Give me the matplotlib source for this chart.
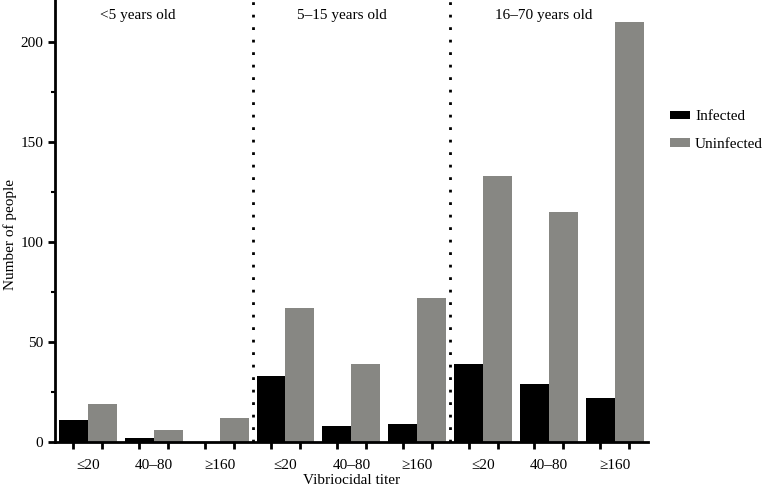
import numpy as np
import matplotlib.pyplot as plt

# data
titer_labels = ['≤20', '40–80', '≥160'] * 3
infected = [11, 2, 0, 33, 8, 9, 39, 29, 22]
uninfected = [19, 6, 12, 67, 39, 72, 133, 115, 210]
age_groups = ['<5 years old', '5–15 years old', '16–70 years old']

plt.rcParams['font.family'] = ['Liberation Serif', 'DejaVu Serif']
plt.rcParams['font.size'] = 11

fig = plt.figure(figsize=(7.63, 4.91), dpi=100)
ax = fig.add_axes([0.072, 0.1, 0.777, 0.9])

x = np.arange(len(infected))
w = 0.44
ax.bar(x - w / 2, infected, width=w, color='black', label='Infected')
ax.bar(x + w / 2, uninfected, width=w, color='#878783', label='Uninfected')

# dotted separators between age groups
for xs in [2.5, 5.5]:
    ax.axvline(xs, color='black', linestyle=(0, (1, 3.5)), lw=2)

for i, name in enumerate(age_groups):
    ax.text(i * 3 + 0.18, 213, name, ha='left', va='center', fontsize=11)

ax.set_xlim(-0.5, 8.5)
ax.set_ylim(0, 221)

ax.set_xticks(x)
ax.set_xticklabels(titer_labels)
ax.tick_params(axis='x', which='major', length=0, pad=12)
ax.set_xticks(np.concatenate([x - w / 2, x + w / 2]), minor=True)
ax.tick_params(axis='x', which='minor', length=5, width=2, direction='out')

ax.set_yticks([0, 50, 100, 150, 200])
ax.set_yticks([25, 75, 125, 175], minor=True)
ax.tick_params(axis='y', which='major', length=5, width=2)
ax.tick_params(axis='y', which='minor', length=3, width=1.5)

for s in ['top', 'right']:
    ax.spines[s].set_visible(False)
for s in ['left', 'bottom']:
    ax.spines[s].set_linewidth(2)

ax.set_ylabel('Number of people')
ax.yaxis.set_label_coords(-0.064, 0.47)
ax.set_xlabel('Vibriocidal titer', labelpad=2)

fig.legend(loc='upper left', bbox_to_anchor=(0.878, 0.775), frameon=False,
           borderpad=0, borderaxespad=0, handlelength=1.3, handleheight=0.45,
           handletextpad=0.35, labelspacing=0.95)

fig.savefig('out.png', dpi=100)
